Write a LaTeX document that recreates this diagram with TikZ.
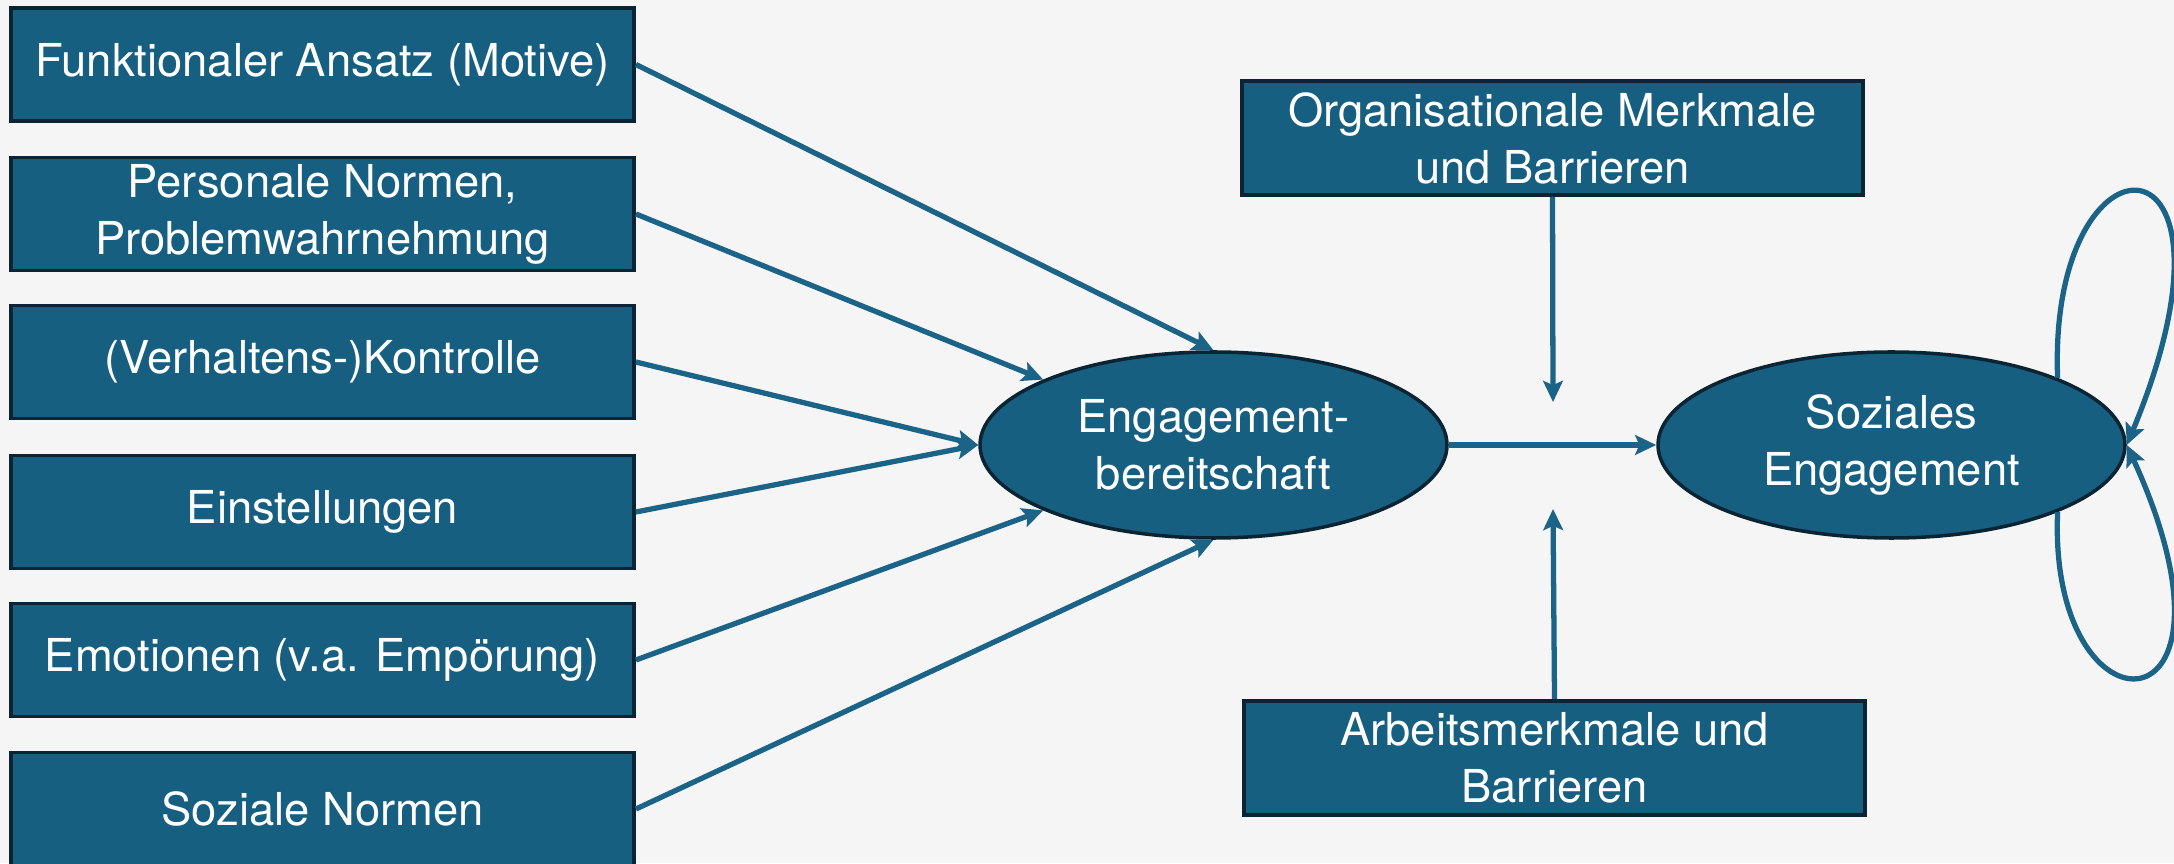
\documentclass[tikz,border=0pt]{standalone}
\usepackage{fontspec}
\setmainfont{TeX Gyre Heros}
\usetikzlibrary{shapes.geometric,arrows.meta}

\definecolor{boxblue}{RGB}{23,95,128}
\definecolor{boxline}{RGB}{10,36,51}
\definecolor{arrowblue}{RGB}{27,99,135}
\definecolor{paper}{RGB}{245,245,245}

\tikzset{
  factor/.style={draw=boxline,fill=boxblue,line width=1.1pt,minimum width=6.23cm,minimum height=1.13cm,inner sep=0pt,align=center,text=white,font=\fontsize{12.9}{16.2}\selectfont},
  construct/.style={ellipse,draw=boxline,fill=boxblue,line width=1pt,minimum width=4.67cm,minimum height=1.86cm,inner sep=0pt,align=center,text=white,font=\fontsize{12.9}{16.2}\selectfont},
  link/.style={draw=arrowblue,line width=1.5pt,-{Stealth[length=6pt,width=5.6pt,inset=1.2pt]}}
}

\begin{document}
\begin{tikzpicture}
\path[use as bounding box,fill=paper] (0,0) rectangle (21.74,8.63); %page

% predictors, left column
\node[factor] (motive) at (3.225,7.985) {Funktionaler Ansatz (Motive)};
\node[factor] (pnorm) at (3.225,6.49) {Personale Normen,\\Problemwahrnehmung};
\node[factor] (kontr) at (3.225,5.01) {(Verhaltens-)Kontrolle};
\node[factor] (einst) at (3.225,3.51) {Einstellungen};
\node[factor] (emot) at (3.225,2.03) {Emotionen (v.a. Empörung)};
\node[factor] (snorm) at (3.225,0.54) {Soziale Normen};

% the two constructs
\node[construct] (bereit) at (12.135,4.18) {Engagement-\\bereitschaft};
\node[construct] (soz) at (18.915,4.18) {Soziales\\Engagement};

% moderators
\node[factor,minimum width=6.21cm,minimum height=1.14cm] (orga) at (15.525,7.25) {Organisationale Merkmale\\und Barrieren};
\node[factor,minimum width=6.21cm,minimum height=1.14cm] (arbeit) at (15.545,1.05) {Arbeitsmerkmale und\\Barrieren};
\coordinate (mtop) at (15.53,4.61);
\coordinate (mbot) at (15.53,3.54);

\draw[link] (motive.east) -- (bereit.north);
\draw[link] (pnorm.east) -- (bereit.159);
\draw[link] (kontr.east) -- (bereit.west);
\draw[link] (einst.east) -- (bereit.west);
\draw[link] (emot.east) -- (bereit.201);
\draw[link] (snorm.east) -- (bereit.south);

\draw[link] (bereit.east) -- (soz.west);
\draw[link] (orga.south) -- (mtop);
\draw[link] (arbeit.north) -- (mbot);

% feedback loops
\draw[link] (soz.22) .. controls +(-0.10,2.59) and +(1.35,3.25) .. (soz.east);
\draw[link] (soz.-22) .. controls +(-0.10,-2.33) and +(1.35,-2.95) .. (soz.east);

\end{tikzpicture}
\end{document}
